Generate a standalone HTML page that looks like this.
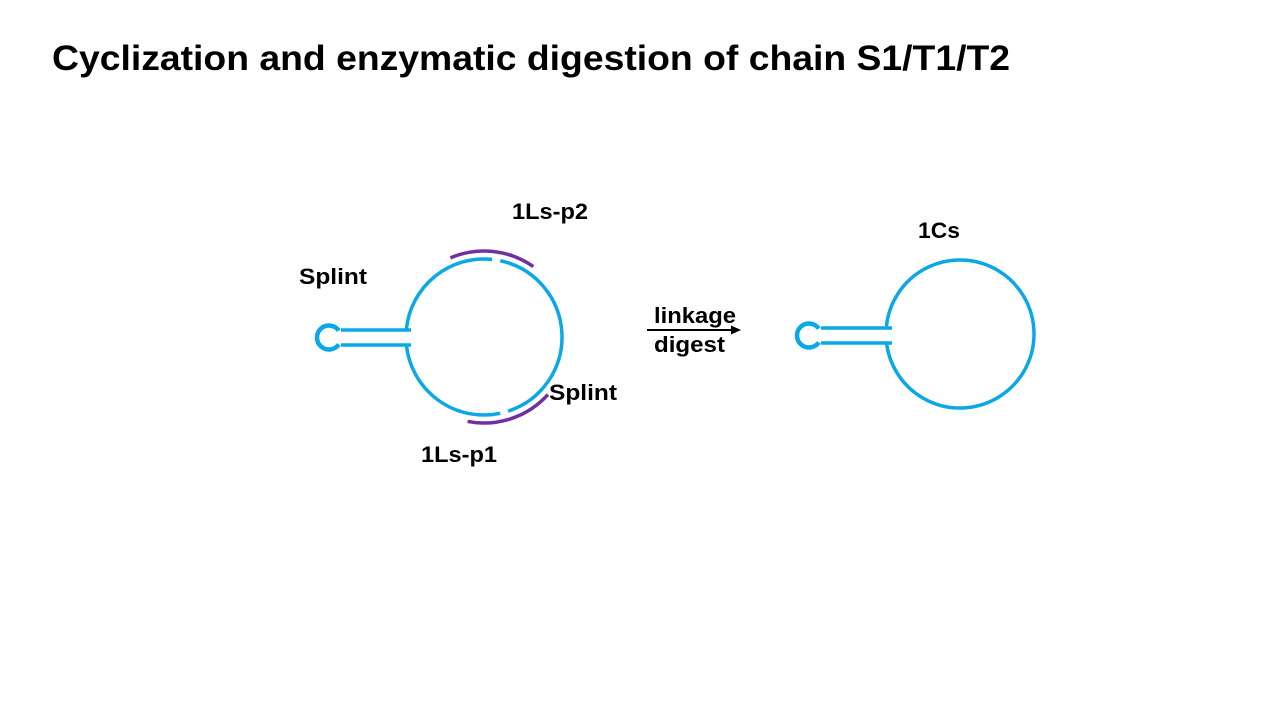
<!DOCTYPE html>
<html><head><meta charset="utf-8"><style>
body{margin:0;width:1280px;height:720px;background:#fff;overflow:hidden;font-family:"Liberation Sans",Arial,sans-serif}
svg{position:absolute;left:0;top:0}
</style></head><body>
<svg id="s" width="1280" height="720" viewBox="0 0 1280 720">
<text x="52" y="70" font-size="35" font-weight="bold" fill="#000" textLength="958" lengthAdjust="spacingAndGlyphs">Cyclization and enzymatic digestion of chain S1/T1/T2</text>
<g font-size="22" font-weight="bold" fill="#000">
<text x="299" y="284" textLength="68" lengthAdjust="spacingAndGlyphs">Splint</text>
<text x="512" y="219" textLength="76" lengthAdjust="spacingAndGlyphs">1Ls-p2</text>
<text x="549" y="400" textLength="68" lengthAdjust="spacingAndGlyphs">Splint</text>
<text x="421" y="462" textLength="76" lengthAdjust="spacingAndGlyphs">1Ls-p1</text>
<text x="918" y="238" textLength="42" lengthAdjust="spacingAndGlyphs">1Cs</text>
<text x="654" y="323" textLength="82" lengthAdjust="spacingAndGlyphs">linkage</text>
<text x="654" y="352" textLength="71" lengthAdjust="spacingAndGlyphs">digest</text>
</g>
<line x1="647" y1="330" x2="733" y2="330" stroke="#000" stroke-width="2"/>
<polygon points="741,330 731,325.5 731,334.5" fill="#000"/>
<g id="g" fill="none" stroke-width="3.5"></g>
</svg>
<script>
var g=document.getElementById('g');
function arc(cx,cy,r,a1,a2,col,w){
 var t=Math.PI/180,x1=cx+r*Math.cos(a1*t),y1=cy+r*Math.sin(a1*t),x2=cx+r*Math.cos(a2*t),y2=cy+r*Math.sin(a2*t);
 var large=(a2-a1)>180?1:0;
 var p=document.createElementNS('http://www.w3.org/2000/svg','path');
 p.setAttribute('d','M'+x1+' '+y1+' A'+r+' '+r+' 0 '+large+' 1 '+x2+' '+y2);
 p.setAttribute('stroke',col);if(w)p.setAttribute('stroke-width',w);g.appendChild(p);
}
function line(x1,y1,x2,y2){
 var p=document.createElementNS('http://www.w3.org/2000/svg','path');
 p.setAttribute('d','M'+x1+' '+y1+' L'+x2+' '+y2);p.setAttribute('stroke','#0aa8e6');g.appendChild(p);
}
var B='#0aa8e6',P='#7030a0';
// left
arc(484,337,78,-78,72,B);arc(484,337,78,78,174,B);arc(484,337,78,186,276,B);
arc(484,337,86,-113,-55,P);arc(484,337,86,42,101,P);
line(341,330,411,330);line(341,345,411,345);
arc(329,337.5,12,35,325,B,4.5);
// right
arc(960,334,74,186,534,B);
line(821,328,892,328);line(821,343,892,343);
arc(809,335.5,12,35,325,B,4.5);
</script>
</body></html>
